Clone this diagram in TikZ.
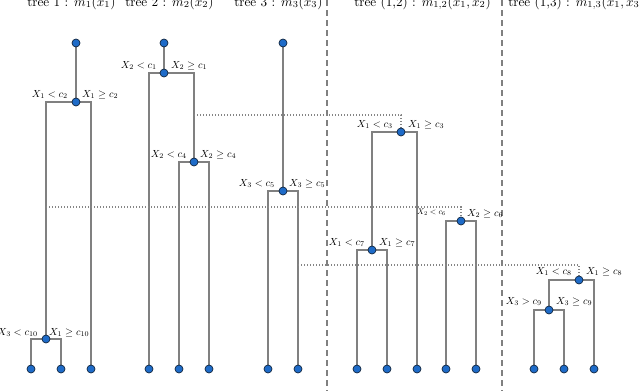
\documentclass[tikz,border=0pt]{standalone}
\usetikzlibrary{backgrounds}
\definecolor{treegray}{HTML}{808080}
\definecolor{linkgray}{HTML}{858585}
\definecolor{sepgray}{HTML}{808080}
\definecolor{dotblue}{HTML}{1E6BC8}
\definecolor{dotedge}{HTML}{12263F}
\begin{document}
\begin{tikzpicture}[x=1pt,y=-1pt,
  treeline/.style={line width=2.2pt, draw=treegray},
  dotn/.style={circle, fill=dotblue, draw=dotedge, line width=0.7pt, inner sep=0pt, minimum size=8pt},
  linkline/.style={draw=linkgray, line width=1.3pt, dash pattern=on 1.3pt off 1.7pt},
  sepline/.style={draw=sepgray, line width=1.8pt, dash pattern=on 6pt off 4pt},
  lab/.style={inner sep=0pt, scale=1.03},
  labl/.style={lab, anchor=base east},
  labr/.style={lab, anchor=base west},
  labsmall/.style={inner sep=0pt, scale=0.82, anchor=base east},
  ttl/.style={inner sep=0pt, anchor=base west, scale=1.32}]
\useasboundingbox (0,0) rectangle (640,391);

% titles
\node[ttl] (t1) at (27,6) {tree 1 : $m_1(x_1)$};
\node[ttl] (t2) at (125,6) {tree 2 : $m_2(x_2)$};
\node[ttl] (t3) at (234,6) {tree 3 : $m_3(x_3)$};
\node[ttl] (t12) at (354,6) {tree (1,2) : $m_{1,2}(x_1, x_2)$};
\node[ttl] (t13) at (508,6) {tree (1,3) : $m_{1,3}(x_1, x_3)$};

% tree 1
\node[dotn] (R1) at (76,43) {};
\node[dotn] (c2) at (76,102) {};
\node[dotn] (c10) at (46,339) {};
\node[dotn] (L11) at (31,369) {};
\node[dotn] (L12) at (61,369) {};
\node[dotn] (L13) at (91,369) {};
% tree 2
\node[dotn] (R2) at (164,43) {};
\node[dotn] (c1) at (164,73) {};
\node[dotn] (c4) at (194,162) {};
\node[dotn] (L21) at (149,369) {};
\node[dotn] (L22) at (179,369) {};
\node[dotn] (L23) at (209,369) {};
% tree 3
\node[dotn] (R3) at (283,43) {};
\node[dotn] (c5) at (283,191) {};
\node[dotn] (L31) at (268,369) {};
\node[dotn] (L32) at (298,369) {};
% tree (1,2)
\node[dotn] (c3) at (401,132) {};
\node[dotn] (c7) at (372,250) {};
\node[dotn] (c6) at (461,221) {};
\node[dotn] (L41) at (357,369) {};
\node[dotn] (L42) at (387,369) {};
\node[dotn] (L43) at (417,369) {};
\node[dotn] (L44) at (446,369) {};
\node[dotn] (L45) at (476,369) {};
% tree (1,3)
\node[dotn] (c8) at (579,280) {};
\node[dotn] (c9) at (549,310) {};
\node[dotn] (L51) at (534,369) {};
\node[dotn] (L52) at (564,369) {};
\node[dotn] (L53) at (594,369) {};

% split labels
\node[labl] (lc2) at (68,97) {$X_1 < c_2$};
\node[labr] (rc2) at (82,97) {$X_1 \geq c_2$};
\node[labl] (lc1) at (157,68) {$X_2 < c_1$};
\node[labr] (rc1) at (171,68) {$X_2 \geq c_1$};
\node[labl] (lc4) at (187,157) {$X_2 < c_4$};
\node[labr] (rc4) at (200,157) {$X_2 \geq c_4$};
\node[labl] (lc5) at (275,186) {$X_3 < c_5$};
\node[labr] (rc5) at (289,186) {$X_3 \geq c_5$};
\node[labl] (lc10) at (38,335) {$X_3 < c_{10}$};
\node[labr] (rc10) at (49,335) {$X_1 \geq c_{10}$};
\node[labl] (lc3) at (393,127) {$X_1 < c_3$};
\node[labr] (rc3) at (408,127) {$X_1 \geq c_3$};
\node[labl] (lc7) at (365,245) {$X_1 < c_7$};
\node[labr] (rc7) at (379,245) {$X_1 \geq c_7$};
\node[labsmall] (lc6) at (446,214) {$X_2 < c_6$};
\node[labr] (rc6) at (467,216) {$X_2 \geq c_6$};
\node[labl] (lc8) at (572,274) {$X_1 < c_8$};
\node[labr] (rc8) at (586,274) {$X_1 \geq c_8$};
\node[labl] (lc9) at (542,304) {$X_3 > c_9$};
\node[labr] (rc9) at (556,304) {$X_3 \geq c_9$};

% free ends
\coordinate (s1t) at (327,0);
\coordinate (s1b) at (327,391);
\coordinate (s2t) at (502,0);
\coordinate (s2b) at (502,391);
\coordinate (k1) at (194,115);
\coordinate (k2) at (46,207);
\coordinate (k3) at (298,265);

\begin{scope}[on background layer]
  % separators
  \draw[sepline] (s1t) -- (s1b);
  \draw[sepline] (s2t) -- (s2b);
  % tree 1
  \draw[treeline] (R1.center) -- (c2.center);
  \draw[treeline] (c10.center) |- (c2.center) -| (L13.center);
  \draw[treeline] (L11.center) |- (c10.center) -| (L12.center);
  % tree 2
  \draw[treeline] (R2.center) -- (c1.center);
  \draw[treeline] (L21.center) |- (c1.center) -| (c4.center);
  \draw[treeline] (L22.center) |- (c4.center) -| (L23.center);
  % tree 3
  \draw[treeline] (R3.center) -- (c5.center);
  \draw[treeline] (L31.center) |- (c5.center) -| (L32.center);
  % tree (1,2)
  \draw[treeline] (c7.center) |- (c3.center) -| (L43.center);
  \draw[treeline] (L41.center) |- (c7.center) -| (L42.center);
  \draw[treeline] (L44.center) |- (c6.center) -| (L45.center);
  % tree (1,3)
  \draw[treeline] (c9.center) |- (c8.center) -| (L53.center);
  \draw[treeline] (L51.center) |- (c9.center) -| (L52.center);
  % links
  \draw[linkline] (k1) -| (c3.center);
  \draw[linkline] (k2) -| (c6.center);
  \draw[linkline] (k3) -| (c8.center);
\end{scope}
\end{tikzpicture}
\end{document}
